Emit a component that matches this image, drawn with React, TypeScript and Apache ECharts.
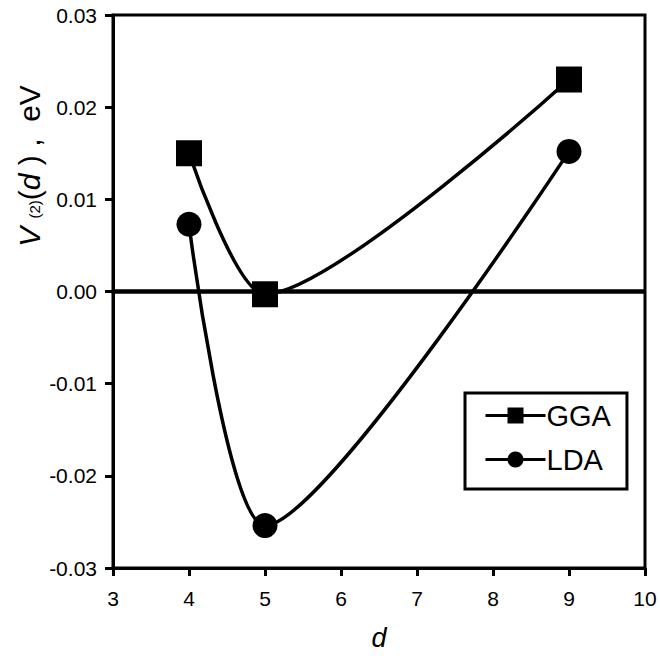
import React, { useEffect, useRef } from "react";
import * as echarts from "echarts";

const xValues = [4, 5, 9];
const ggaValues = [0.015, -0.0003, 0.023];
const ldaValues = [0.0073, -0.0254, 0.0152];
const seriesNames = ["GGA", "LDA"];

export default function App() {
  const ref = useRef<HTMLDivElement>(null);
  useEffect(() => {
    if (!ref.current) return;
    const chart = echarts.init(ref.current, null, { renderer: "svg" });
    const font = "Liberation Sans, Arial, sans-serif";
    const mk = (vals: number[]) => xValues.map((x, i) => [x, vals[i]]);
    chart.setOption({
      animation: false,
      backgroundColor: "#ffffff",
      textStyle: { fontFamily: font },
      grid: {
        left: 113,
        top: 15,
        width: 532,
        height: 555,
        show: true,
        borderColor: "#000",
        borderWidth: 3,
        backgroundColor: "transparent",
      },
      xAxis: {
        type: "value",
        min: 3,
        max: 10,
        interval: 1,
        axisLine: { show: true, onZero: false, lineStyle: { color: "#000", width: 3 } },
        axisTick: { show: true, inside: false, length: 8, lineStyle: { color: "#000", width: 3 } },
        axisLabel: { color: "#000", fontSize: 21, margin: 20, fontFamily: font },
        splitLine: { show: false },
        name: "d",
        nameLocation: "middle",
        nameGap: 56,
        nameTextStyle: { color: "#000", fontSize: 27, fontStyle: "italic", fontFamily: font },
      },
      yAxis: {
        type: "value",
        min: -0.03,
        max: 0.03,
        interval: 0.01,
        axisLine: { show: true, onZero: false, lineStyle: { color: "#000", width: 3 } },
        axisTick: { show: true, inside: false, length: 8, lineStyle: { color: "#000", width: 3 } },
        axisLabel: {
          color: "#000",
          fontSize: 21,
          margin: 16,
          fontFamily: font,
          formatter: (v: number) => (Math.abs(v) < 1e-9 ? "0.00" : v.toFixed(2)),
        },
        splitLine: { show: false },
      },
      legend: {
        left: 465,
        top: 393,
        orient: "vertical",
        data: seriesNames,
        itemWidth: 60,
        itemHeight: 20,
        itemGap: 15,
        borderColor: "#000",
        borderWidth: 3,
        borderRadius: 0,
        padding: [8, 16, 15, 19],
        lineStyle: { width: 3, color: "#000" },
        textStyle: { color: "#000", fontSize: 29, fontFamily: font, padding: [0, 0, 0, -4] },
      },
      graphic: [
        {
          type: "text",
          x: 29,
          y: 166,
          rotation: Math.PI / 2,
          style: {
            text: "{i|V}{s|  (2)}{n|(}{i|d}{n| ) ,  eV}",
            align: "center",
            verticalAlign: "middle",
            fill: "#000",
            rich: {
              i: { fontSize: 30, fontStyle: "italic", fontFamily: font, fill: "#000" },
              n: { fontSize: 30, fontFamily: font, fill: "#000" },
              s: { fontSize: 15, fontFamily: font, fill: "#000", padding: [11, 0, 0, 0] },
            },
          },
        },
      ],
      series: [
        {
          name: seriesNames[0],
          type: "line",
          data: mk(ggaValues),
          smooth: 0.25,
          symbol: "rect",
          symbolSize: 26,
          itemStyle: { color: "#000" },
          lineStyle: { color: "#000", width: 3.5 },
          z: 3,
          markLine: {
            silent: true,
            symbol: "none",
            label: { show: false },
            lineStyle: { color: "#000", width: 4.5, type: "solid" },
            data: [{ yAxis: 0 }],
          },
        },
        {
          name: seriesNames[1],
          type: "line",
          data: mk(ldaValues),
          smooth: 0.25,
          symbol: "circle",
          symbolSize: 25,
          itemStyle: { color: "#000" },
          lineStyle: { color: "#000", width: 3.5 },
          z: 3,
        },
      ],
    });
    return () => chart.dispose();
  }, []);
  return (
    <div
      ref={ref}
      style={{ position: "absolute", left: 0, top: 0, width: 660, height: 656 }}
    />
  );
}
